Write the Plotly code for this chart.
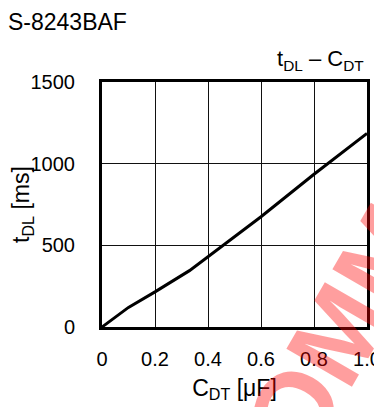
import plotly.graph_objects as go

# Data
c_dt = [0.0, 0.02, 0.1, 0.2, 0.33, 0.6, 0.8, 1.0]          # C_DT [uF]
t_dl = [0, 25, 120, 215, 345, 675, 935, 1185]                # t_DL [ms]

x_ticks = [0, 0.2, 0.4, 0.6, 0.8, 1.0]
x_ticktext = ["0", "0.2", "0.4", "0.6", "0.8", "1.0"]
y_ticks = [0, 500, 1000, 1500]
y_ticktext = ["0", "500", "1000", "1500"]

FONT = "Arial, Liberation Sans, sans-serif"

fig = go.Figure()
fig.add_trace(go.Scatter(x=c_dt, y=t_dl, mode="lines",
                         line=dict(color="black", width=3), showlegend=False))

fig.update_layout(
    width=374, height=399,
    margin=dict(l=94, r=15, t=74, b=80, autoexpand=False),
    paper_bgcolor="white", plot_bgcolor="white",
    font=dict(family=FONT, size=20, color="black"),
    xaxis=dict(range=[0, 1.0], tickvals=x_ticks, ticktext=x_ticktext,
               showgrid=True, gridcolor="#111", gridwidth=1,
               showline=True, linecolor="black", linewidth=3, mirror=True,
               zeroline=False, ticks="outside", ticklen=0, ticklabelstandoff=12,
               automargin=False,
               title=dict(text="C<sub>DT</sub> [μF]", standoff=11,
                          font=dict(size=23))),
    yaxis=dict(range=[0, 1500], tickvals=y_ticks, ticktext=y_ticktext,
               showgrid=True, gridcolor="#111", gridwidth=1,
               showline=True, linecolor="black", linewidth=3, mirror=True,
               zeroline=False, ticks="outside", ticklen=0, ticklabelstandoff=20,
               automargin=False,
               title=dict(text="t<sub>DL</sub> [ms]", standoff=4,
                          font=dict(size=23))),
    annotations=[
        dict(text="S-8243BAF", xref="paper", yref="paper",
             x=-0.362, y=1.245, xanchor="left", yanchor="middle",
             showarrow=False, font=dict(size=23)),
        dict(text="t<sub>DL</sub> – C<sub>DT</sub>", xref="paper", yref="paper",
             x=0.995, y=1.09, xanchor="right", yanchor="middle",
             showarrow=False, font=dict(size=22)),
        dict(text="<b>RECOMMENDED</b>", xref="paper", yref="paper",
             x=1.04, y=0.25, xanchor="center", yanchor="middle",
             textangle=-60, showarrow=False,
             font=dict(size=110, color="rgba(255,0,0,0.38)")),
    ],
)

fig.write_html("out.html")
